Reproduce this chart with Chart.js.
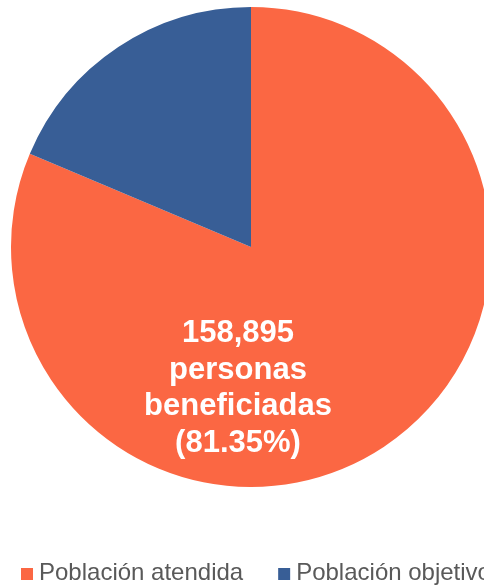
<!DOCTYPE html>
<html>
<head>
<meta charset="utf-8">
<script src="https://cdn.jsdelivr.net/npm/chart.js@4/dist/chart.umd.min.js"></script>
<style>
  html, body { margin: 0; padding: 0; background: #fff; overflow: hidden; }
  #wrap { width: 484px; height: 587px; overflow: hidden; }
</style>
</head>
<body>
<div id="wrap"><canvas id="chart" width="502" height="587"></canvas></div>
<script>
// Datos de la gráfica
const etiquetas = ['Población atendida', 'Población objetivo'];
const valores = [158895, 36428];
const colores = ['#FB6743', '#385E96'];
const textoCentro = ['158,895', 'personas', 'beneficiadas', '(81.35%)'];

// Texto dentro de la rebanada naranja
const textoPlugin = {
    id: 'textoCentro',
    afterDatasetsDraw(chart) {
        const ctx = chart.ctx;
        const arc = chart.getDatasetMeta(0).data[0];
        ctx.save();
        ctx.fillStyle = '#ffffff';
        ctx.font = 'bold 31px "Liberation Sans", Arial, sans-serif';
        ctx.textAlign = 'center';
        ctx.textBaseline = 'alphabetic';
        textoCentro.forEach((linea, i) => {
            ctx.fillText(linea, arc.x - 13, arc.y + 95 + i * 36.6);
        });
        ctx.restore();
    }
};

// Leyenda dibujada a mano abajo
const leyendaPlugin = {
    id: 'leyendaAbajo',
    afterDraw(chart) {
        const ctx = chart.ctx;
        ctx.save();
        ctx.font = '24px "Liberation Sans", Arial, sans-serif';
        ctx.textBaseline = 'alphabetic';
        let x = 21;
        const y = 580;
        etiquetas.forEach((et, i) => {
            ctx.fillStyle = colores[i];
            ctx.fillRect(x, y - 12, 12, 12);
            ctx.fillStyle = '#595959';
            ctx.fillText(et, x + 18, y);
            x += 18 + ctx.measureText(et).width + 35;
        });
        ctx.restore();
    }
};

const ctx = document.getElementById('chart').getContext('2d');
const chart = new Chart(ctx, {
    type: 'pie',
    data: {
        labels: etiquetas,
        datasets: [{
            data: valores,
            backgroundColor: colores,
            borderWidth: 0
        }]
    },
    options: {
        responsive: false,
        animation: false,
        layout: {
            padding: { top: 7, bottom: 100, left: 0, right: 0 }
        },
        plugins: {
            legend: { display: false },
            tooltip: { enabled: false }
        }
    },
    plugins: [textoPlugin, leyendaPlugin]
});
</script>
</body>
</html>
